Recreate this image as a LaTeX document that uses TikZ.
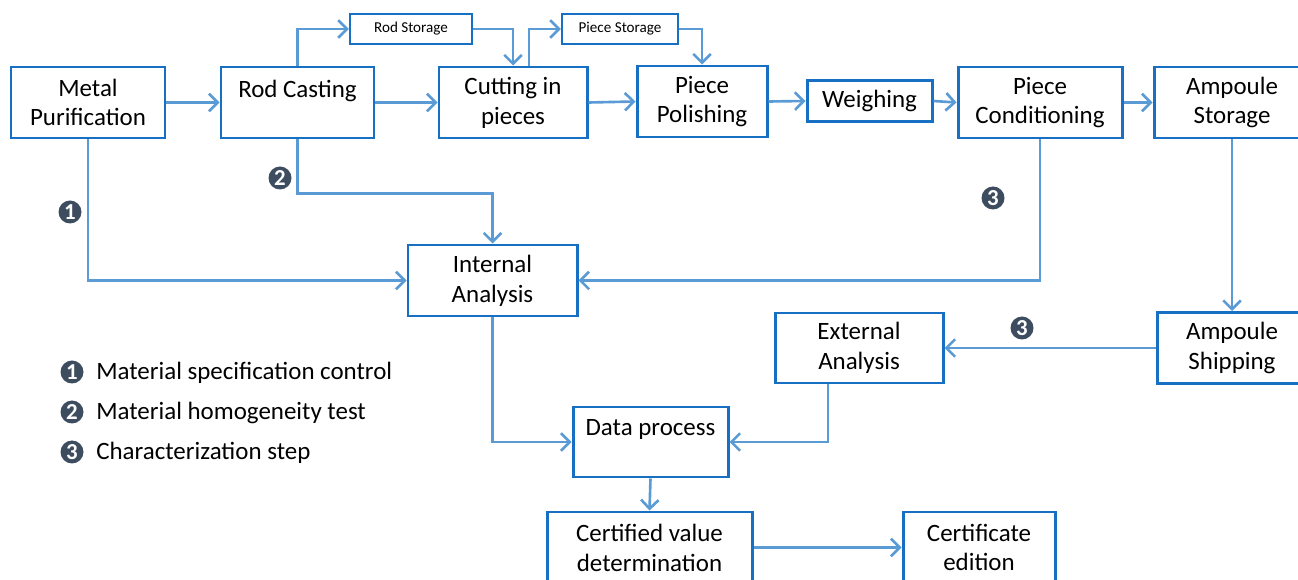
\documentclass[tikz,border=0pt]{standalone}
\usepackage{fontspec}
\setmainfont{Carlito}
\usepackage{tikz}
\usetikzlibrary{arrows.meta}
\usetikzlibrary{calc}

\definecolor{boxblue}{RGB}{24,112,196}
\definecolor{arrblue}{RGB}{91,155,213}
\definecolor{slate}{RGB}{62,76,96}

\tikzset{
  box/.style={draw=boxblue, line width=1.7pt, fill=white, inner sep=0pt,
    minimum height=71*0.02cm, align=center, font=\fontsize{14.2}{17}\selectfont},
  smallbox/.style={box, line width=1.4pt, minimum height=30*0.02cm, font=\fontsize{8.6}{10}\selectfont},
  arr/.style={draw=arrblue, line width=1.5pt, -{Straight Barb[length=5pt,width=10pt]}},
  badge/.style={circle, fill=slate, text=white, inner sep=0pt, minimum size=23*0.02cm,
    font=\fontsize{13}{13}\selectfont\bfseries},
  legend/.style={anchor=west, inner sep=0pt, font=\fontsize{14.2}{17}\selectfont}
}

\begin{document}
\begin{tikzpicture}[x=0.02cm, y=-0.02cm]
\clip (0,0) rectangle (1298,580);

% top row
\node[box, minimum width=154*0.02cm] (mp) at (88,102.5) {Metal\\Purification};
\node[box, minimum width=153*0.02cm] (rc) at (297.5,102.5) {Rod Casting\\[-6pt]\strut};
\node[smallbox, minimum width=122*0.02cm] (rs) at (411,29) {Rod Storage};
\node[box, minimum width=148*0.02cm] (cut) at (513,102.5) {Cutting in\\pieces};
\node[smallbox, minimum width=116*0.02cm] (ps) at (620,29) {Piece Storage};
\node[box, minimum width=130*0.02cm] (pp) at (702,101.5) {Piece\\Polishing};
\node[box, minimum width=125*0.02cm, minimum height=41*0.02cm] (wg) at (869.5,101) {Weighing};
\node[box, minimum width=164*0.02cm] (pc) at (1040,102.5) {Piece\\Conditioning};
\node[box, minimum width=156*0.02cm] (as) at (1232,102.5) {Ampoule\\Storage};

% lower part
\node[box, minimum width=169*0.02cm] (ia) at (492.5,280.5) {Internal\\Analysis};
\node[box, minimum width=168*0.02cm, minimum height=70*0.02cm] (ea) at (859,348) {External\\Analysis};
\node[box, minimum width=150*0.02cm] (shp) at (1232,348) {Ampoule\\Shipping};
\node[box, minimum width=155*0.02cm, minimum height=70*0.02cm] (dp) at (650.5,442) {Data process\\[-6pt]\strut};
\node[box, minimum width=205*0.02cm] (cv) at (649.5,547.5) {Certified value\\determination};
\node[box, minimum width=152*0.02cm] (ce) at (979,547.5) {Certificate\\edition};

% flow
\draw[arr] (mp.east) -- (rc.west);
\draw[arr] (rc.east) -- (cut.west);
\draw[arr] (rc.north) |- (rs.west);
\draw[arr] (rs.east) -| (cut.north);
\draw[arr] ($(cut.north)+(16,0)$) |- (ps.west);
\draw[arr] (ps.east) -| (pp.north);
\draw[arr] (cut.east) -- (pp.west);
\draw[arr] (pp.east) -- (wg.west);
\draw[arr] (wg.east) -- (pc.west);
\draw[arr] (pc.east) -- (as.west);
\draw[arr] (mp.south) |- (ia.west);
\draw[arr] (rc.south) -- ++(0,54) -| (ia.north);
\draw[arr] (pc.south) |- (ia.east);
\draw[arr] (as.south) -- (shp.north);
\draw[arr] (shp.west) -- (ea.east);
\draw[arr] (ia.south) |- (dp.west);
\draw[arr] ($(ea.south)+(-31,0)$) |- (dp.east);
\draw[arr] (dp.south) -- (cv.north);
\draw[arr] (cv.east) -- (ce.west);

% step marks
\node[badge] (b1) at (70,212) {1};
\node[badge] (b2) at (280,178) {2};
\node[badge] (b3) at (993,198) {3};
\node[badge] (b4) at (1022,328) {3};

% legend
\node[badge] (l1) at (72,372) {1};
\node[badge] (l2) at (72,412) {2};
\node[badge] (l3) at (72,452) {3};
\node[legend] (t1) at (96,373) {Material specification control};
\node[legend] (t2) at (96,413) {Material homogeneity test};
\node[legend] (t3) at (96,453) {Characterization step};
\end{tikzpicture}
\end{document}
